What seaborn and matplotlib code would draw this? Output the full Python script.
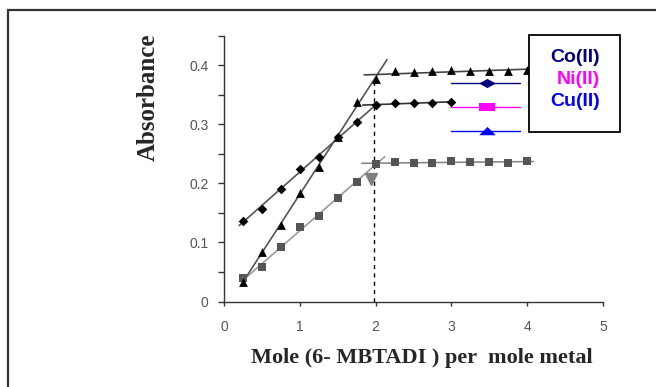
import numpy as np
import pandas as pd
import matplotlib
matplotlib.use("Agg")
import matplotlib.pyplot as plt
import seaborn as sns
from matplotlib.patches import Rectangle
from matplotlib.lines import Line2D
from matplotlib.ticker import MultipleLocator

# ---- data ----
x_co = [0.25, 0.5, 0.75, 1.0, 1.25, 1.5, 1.75, 2.0, 2.25, 2.5, 2.75, 3.0]
y_co = [0.137, 0.157, 0.190, 0.225, 0.245, 0.278, 0.303, 0.332, 0.336, 0.336, 0.336, 0.338]

x_ni = [0.25, 0.5, 0.75, 1.0, 1.25, 1.5, 1.75, 2.0, 2.25, 2.5, 2.75, 3.0, 3.25, 3.5, 3.75, 4.0]
y_ni = [0.039, 0.058, 0.092, 0.126, 0.144, 0.176, 0.202, 0.233, 0.236, 0.234, 0.234, 0.238,
        0.236, 0.236, 0.234, 0.238]

x_cu = [0.25, 0.5, 0.75, 1.0, 1.25, 1.5, 1.75, 2.0, 2.25, 2.5, 2.75, 3.0, 3.25, 3.5, 3.75, 4.0]
y_cu = [0.033, 0.084, 0.129, 0.184, 0.228, 0.279, 0.337, 0.376, 0.390, 0.388, 0.390, 0.392,
        0.390, 0.390, 0.390, 0.392]

series_names = ["Co(II)", "Ni(II)", "Cu(II)"]
legend_colors = ["#000080", "#FF00FF", "#0000FF"]

x_break = 1.98          # stoichiometric ratio (dashed line)
y_break = 0.376
arrow_pt = (1.94, 0.208)

# fit-line extents
rise_range = {"co": (0.2, 2.03), "ni": (0.25, 2.12), "cu": (0.25, 2.15)}
flat_range = {"co": (1.83, 3.0), "ni": (1.82, 4.08), "cu": (1.85, 4.1)}

x_ticks = [0, 1, 2, 3, 4, 5]
y_ticks = [0, 0.1, 0.2, 0.3, 0.4]

# ---- figure ----
sns.set_style("ticks")
plt.rcParams["font.family"] = ["Liberation Sans", "DejaVu Sans"]

fig = plt.figure(figsize=(6.56, 3.87), dpi=100)
ax = fig.add_axes([224 / 656, 85.5 / 387, 379 / 656, 265.9 / 387])

def fitline(xs, ys, sel, rng, color, lw):
    xs = np.asarray(xs); ys = np.asarray(ys)
    m, b = np.polyfit(xs[sel], ys[sel], 1)
    xx = np.array(rng)
    sns.lineplot(x=xx, y=m * xx + b, ax=ax, color=color, lw=lw, zorder=2)

for key, xs, ys, c_r, c_f in [("co", x_co, y_co, "#555555", "#333333"),
                              ("ni", x_ni, y_ni, "#999999", "#888888"),
                              ("cu", x_cu, y_cu, "#555555", "#444444")]:
    xa = np.asarray(xs)
    fitline(xs, ys, xa <= 2.0, rise_range[key], c_r, 1.2)
    fitline(xs, ys, xa >= 2.0, flat_range[key], c_f, 1.2)

sns.scatterplot(x=x_co, y=y_co, ax=ax, marker="D", s=24, color="black",
                edgecolor="black", linewidth=0, zorder=3)
sns.scatterplot(x=x_ni, y=y_ni, ax=ax, marker="s", s=26, color="#555555",
                edgecolor="#555555", linewidth=0, zorder=3)
sns.scatterplot(x=x_cu, y=y_cu, ax=ax, marker="^", s=40, color="black",
                edgecolor="black", linewidth=0, zorder=3)

ax.plot([x_break, x_break], [0, y_break], ls=(0, (3, 3)), color="black", lw=1, zorder=1)
ax.plot([arrow_pt[0]], [arrow_pt[1]], marker="v", ms=8, color="#808080", zorder=3)

ax.set_xlim(0, 5)
ax.set_ylim(0, 0.45)
ax.set_xticks(x_ticks)
ax.set_xticklabels([str(t) for t in x_ticks])
ax.set_yticks(y_ticks)
ax.set_yticklabels(["0"] + [f"{t:.1f}" for t in y_ticks[1:]])
ax.yaxis.set_minor_locator(MultipleLocator(0.05))
ax.tick_params(axis="both", which="both", direction="out", color="#333333",
               labelcolor="#555555", labelsize=10)
ax.tick_params(axis="y", which="both", length=4, width=1, pad=7)
ax.tick_params(axis="x", which="major", length=3, width=1, pad=10)
for s in ["top", "right"]:
    ax.spines[s].set_visible(False)
for s in ["left", "bottom"]:
    ax.spines[s].set_color("#333333")
    ax.spines[s].set_linewidth(1)
ax.set_xlabel("")
ax.set_ylabel("")

# legend handles (drawn outside the legend box, as in the reference)
hx0, hx1, hxm = 0.599, 0.781, 0.694
hy = [0.822, 0.731, 0.641]
flat_diamond = [(-1, 0), (0, 0.55), (1, 0), (0, -0.55), (-1, 0)]
wide_rect = [(-1, -0.45), (1, -0.45), (1, 0.45), (-1, 0.45), (-1, -0.45)]
flat_tri = [(-1, -0.45), (1, -0.45), (0, 0.55), (-1, -0.45)]
hmark = [(flat_diamond, 12), (wide_rect, 12), (flat_tri, 12)]
for (mk, ms), c, yy in zip(hmark, legend_colors, hy):
    ax.add_line(Line2D([hx0, hx1], [yy, yy], color=c, lw=1, transform=ax.transAxes,
                       clip_on=False, zorder=4))
    ax.add_line(Line2D([hxm], [yy], marker=mk, markersize=ms, lw=0,
                       markerfacecolor=c, markeredgecolor=c, markeredgewidth=0,
                       transform=ax.transAxes, clip_on=False, zorder=4))

# legend box with labels
fig.patches.append(Rectangle((529 / 656, 255 / 387), 91 / 656, 97 / 387,
                             transform=fig.transFigure, fill=True, facecolor="white",
                             edgecolor="black", lw=1.3, zorder=5))
for name, c, yy in zip(series_names, legend_colors, [330, 307, 285]):
    fig.text(600 / 656, yy / 387, name, color=c, fontsize=14, fontweight="bold",
             ha="right", va="center", zorder=6)

# axis titles
fig.text(148.5 / 656, (387 - 97.5) / 387, "Absorbance", rotation=90, ha="center",
         va="center", fontsize=18, fontweight="bold", family=["Liberation Serif"])
fig.text(421.5 / 656, (387 - 363) / 387, "Mole (6- MBTADI ) per  mole metal",
         ha="center", va="baseline", fontsize=16, fontweight="bold",
         family=["Liberation Serif"])

# outer frame
fig.patches.append(Rectangle((8 / 656, -0.1), 1.2, (377 / 387) + 0.1,
                             transform=fig.transFigure, fill=False,
                             edgecolor="#333333", lw=1.6, zorder=0))

fig.savefig("out.png", dpi=100)
